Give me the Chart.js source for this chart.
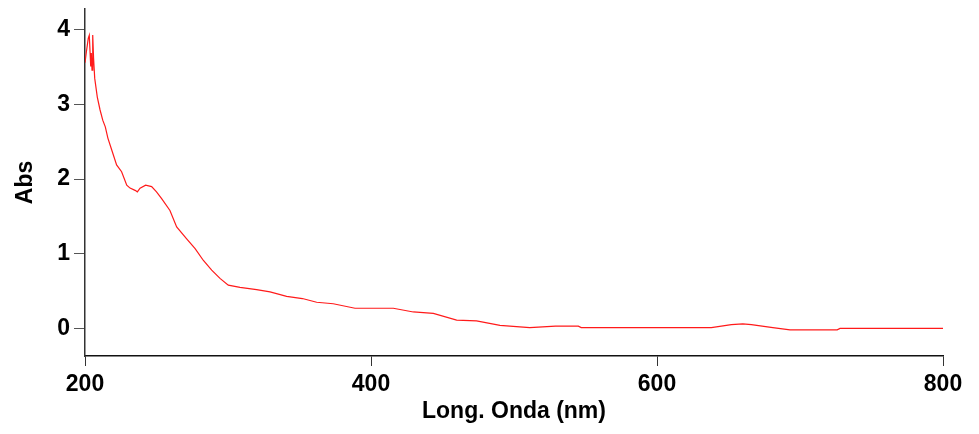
<!DOCTYPE html>
<html>
<head>
<meta charset="utf-8">
<script src="https://cdn.jsdelivr.net/npm/chart.js@4.4.1/dist/chart.umd.min.js"></script>
<style>
    html, body { margin: 0; padding: 0; background: #fff; }
    #wrap { width: 979px; height: 434px; }
</style>
</head>
<body>
<div id="wrap"><canvas id="myChart" width="979" height="434"></canvas></div>
<script>
// wavelength (nm) and absorbance
const wavelength = [200, 201, 202.3, 203, 204, 204.4, 204.9, 205.4, 206, 206.8, 208.6, 210.5, 212.4, 214.2, 216, 218.7,
    222.1, 225.6, 229.2, 231.5, 235, 236.6, 238.5, 242.4, 246.6, 250, 253.6, 259.4, 264.1, 271.1, 277, 282.8,
    288.6, 294.4, 300.2, 308.4, 320, 329.4, 341, 352, 362, 373.6, 388.8, 415.6, 429.6, 443.6, 459.9, 473.8,
    490.2, 511, 529, 545, 547, 638, 652, 660, 666, 681, 693, 726, 728, 800]
const absorbance = [3.56, 3.71, 3.89, 3.93, 3.51, 3.69, 3.46, 3.93, 3.62, 3.35, 3.10, 2.93, 2.79, 2.70, 2.55, 2.39,
    2.19, 2.10, 1.92, 1.88, 1.85, 1.83, 1.88, 1.92, 1.90, 1.83, 1.74, 1.58, 1.36, 1.20, 1.07, 0.91,
    0.78, 0.67, 0.58, 0.55, 0.52, 0.49, 0.43, 0.40, 0.35, 0.33, 0.27, 0.27, 0.22, 0.20, 0.11, 0.10,
    0.04, 0.01, 0.03, 0.03, 0.01, 0.01, 0.05, 0.06, 0.05, 0.01, -0.02, -0.02, 0.00, 0.00]

const xTicks = [200, 400, 600, 800]
const yTicks = [0, 1, 2, 3, 4]

const points = wavelength.map((w, i) => ({ x: w, y: absorbance[i] }))

const tickFont = { family: 'Liberation Sans, Arial, sans-serif', size: 23, weight: 'bold' }
const titleFont = { family: 'Liberation Sans, Arial, sans-serif', size: 23, weight: 'bold' }

let ctx = document.getElementById('myChart').getContext('2d');
let myChart = new Chart(ctx, {
    type: 'line',
    data: {
        datasets: [{
            data: points,
            borderColor: '#ff1a1a',
            borderWidth: 1.2,
            pointRadius: 0,
            tension: 0,
            fill: false
        }]
    },
    options: {
        responsive: false,
        animation: false,
        devicePixelRatio: 1,
        layout: {
            padding: { top: 9, right: 36, left: 0, bottom: 0 }
        },
        plugins: {
            legend: { display: false },
            tooltip: { enabled: false }
        },
        scales: {
            x: {
                type: 'linear',
                min: 200,
                max: 800,
                afterBuildTicks: (axis) => { axis.ticks = xTicks.map(v => ({ value: v })) },
                afterFit: (axis) => { axis.height = 78; axis.paddingLeft = 0; axis.paddingRight = 0 },
                border: { display: true, color: '#111', width: 1.5 },
                grid: { drawOnChartArea: false, drawTicks: true, tickLength: 10, color: '#333', lineWidth: 1 },
                ticks: { color: '#000', font: tickFont, padding: 5, maxRotation: 0 },
                title: { display: true, text: 'Long. Onda (nm)', color: '#000', font: titleFont, padding: { top: 0, bottom: 9 } }
            },
            y: {
                type: 'linear',
                min: -0.37,
                max: 4.28,
                afterBuildTicks: (axis) => { axis.ticks = yTicks.map(v => ({ value: v })) },
                afterFit: (axis) => { axis.width = 85; axis.paddingTop = 0; axis.paddingBottom = 0 },
                border: { display: true, color: '#333', width: 1.5 },
                grid: { drawOnChartArea: false, drawTicks: true, tickLength: 11, color: '#555', lineWidth: 1 },
                ticks: { color: '#000', font: tickFont, padding: 4 },
                title: { display: true, text: 'Abs', color: '#000', font: titleFont, padding: { top: 12, bottom: 0 } }
            }
        }
    }
});
</script>
</body>
</html>
